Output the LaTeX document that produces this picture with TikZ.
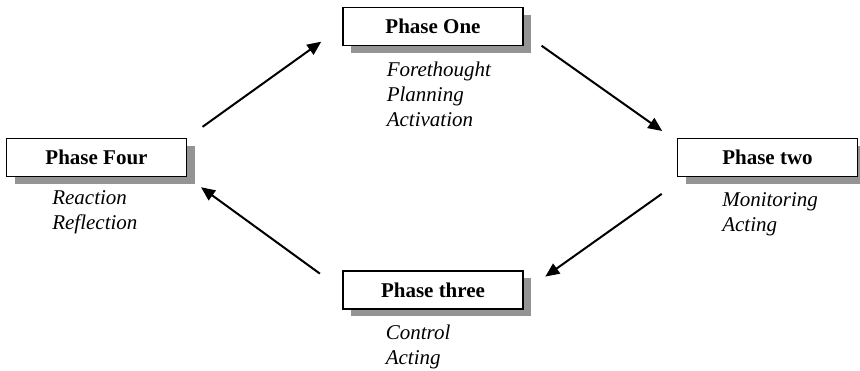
\documentclass[tikz,border=0pt]{standalone}
\usepackage{fontspec}
\setmainfont{Liberation Serif}
\usetikzlibrary{arrows.meta,shadows}

\begin{document}
\begin{tikzpicture}[x=0.5pt, y=-0.5pt, >={Triangle[length=7pt, width=6pt]},
	fase/.style={draw, line width=0.6pt, fill=white, minimum width=90pt, minimum height=19pt, inner sep=0pt,
		font=\fontsize{10.5}{12.5}\selectfont\bfseries,
		drop shadow={shadow xshift=4pt, shadow yshift=-3.5pt, fill=black!42, opacity=1}},
	attivita/.style={anchor=north west, inner sep=0pt, align=left, font=\fontsize{10.5}{12.5}\selectfont\itshape},
	freccia/.style={->, line width=1pt}]

	\useasboundingbox (0,0) rectangle (860,370);

	% fasi
	\node[fase] (uno) at (433,26.5) {Phase One};
	\node[fase] (due) at (767.5,157.5) {Phase two};
	\node[fase] (tre) at (433,290) {Phase three};
	\node[fase] (quattro) at (96.5,157.5) {Phase Four};

	% attività sotto ogni fase
	\node[attivita] (uno-att) at ([xshift=22pt, yshift=-7.5pt]uno.south west) {Forethought\\Planning\\Activation};
	\node[attivita] (due-att) at ([xshift=22.5pt, yshift=-7.5pt]due.south west) {Monitoring\\Acting};
	\node[attivita] (tre-att) at ([xshift=21.5pt, yshift=-7.5pt]tre.south west) {Control\\Acting};
	\node[attivita] (quattro-att) at ([xshift=23pt, yshift=-6.5pt]quattro.south west) {Reaction\\Reflection};

	% ciclo
	\draw[freccia, shorten <=9.5pt, shorten >=13pt] (quattro.north east) -- (uno.west);
	\draw[freccia, shorten <=11pt, shorten >=9pt] ([yshift=-3.25pt]uno.east) -- ([yshift=-1.75pt]due.north west);
	\draw[freccia, shorten <=9.3pt, shorten >=13.3pt] ([yshift=-3pt]due.south west) -- ([yshift=-1pt]tre.east);
	\draw[freccia, shorten <=13.9pt, shorten >=8.6pt] (tre.west) -- (quattro.south east);
\end{tikzpicture}
\end{document}
